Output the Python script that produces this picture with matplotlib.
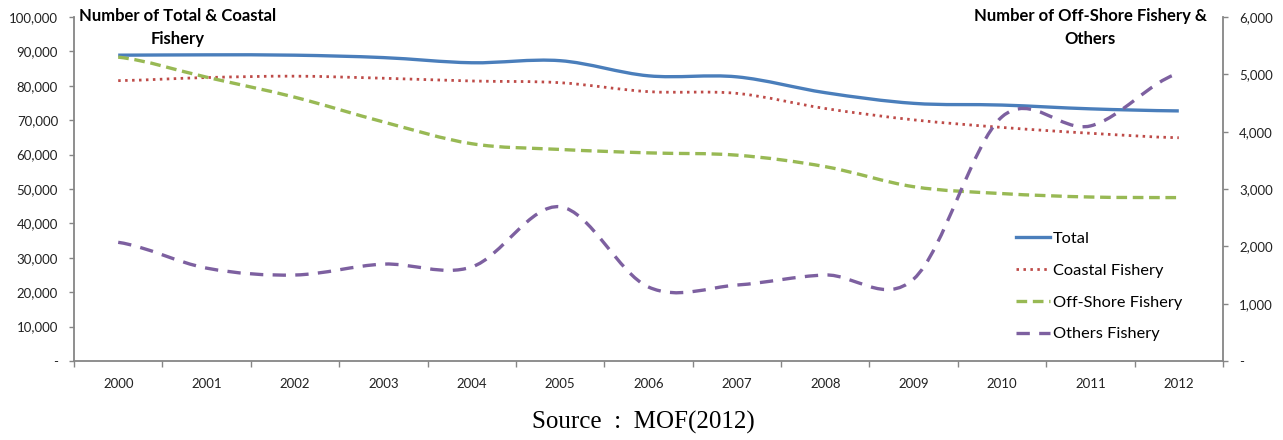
import matplotlib
matplotlib.use("Agg")
import matplotlib.pyplot as plt
from matplotlib.path import Path
from matplotlib.patches import PathPatch
from matplotlib.lines import Line2D
from matplotlib.ticker import FuncFormatter, FixedLocator

years = ["2000", "2001", "2002", "2003", "2004", "2005", "2006",
         "2007", "2008", "2009", "2010", "2011", "2012"]
total = [88900, 89000, 88900, 88200, 86700, 87300, 82900,
         82600, 78000, 74900, 74400, 73300, 72700]
coastal = [81500, 82400, 82800, 82200, 81400, 80900, 78300,
           77800, 73400, 70100, 67900, 66200, 64900]
offshore = [5300, 4950, 4600, 4170, 3790, 3690, 3630,
            3590, 3390, 3040, 2920, 2860, 2850]
others = [2070, 1620, 1500, 1690, 1640, 2690, 1290,
          1325, 1500, 1430, 4260, 4100, 5020]

C_TOTAL = "#4A7EBB"
C_COAST = "#BE4B48"
C_OFF = "#98B954"
C_OTH = "#7D60A0"

W, H = 1283, 440
fig = plt.figure(figsize=(W / 100, H / 100), dpi=100)
ax = fig.add_axes([74 / W, (H - 361) / H, (1223 - 74) / W, 344 / H])
ax2 = ax.twinx()

def smooth_path(ys):
    """Excel-style smoothed line as cubic Bezier segments (Catmull-Rom)."""
    n = len(ys)
    xs = list(range(n))
    verts = [(xs[0], ys[0])]
    codes = [Path.MOVETO]
    for i in range(n - 1):
        p0 = ys[i - 1] if i > 0 else ys[i]
        p1, p2 = ys[i], ys[i + 1]
        p3 = ys[i + 2] if i + 2 < n else ys[i + 1]
        c1 = p1 + (p2 - p0) / 6.0
        c2 = p2 - (p3 - p1) / 6.0
        verts += [(xs[i] + 1 / 3, c1), (xs[i] + 2 / 3, c2), (xs[i + 1], p2)]
        codes += [Path.CURVE4] * 3
    return Path(verts, codes)

styles = {
    "total": dict(color=C_TOTAL, lw=2.4, ls="-"),
    "coastal": dict(color=C_COAST, lw=2.0, ls=(0, (0.9, 1.6))),
    "offshore": dict(color=C_OFF, lw=2.4, ls=(0, (3.2, 1.7))),
    "others": dict(color=C_OTH, lw=2.4, ls=(0, (4.0, 2.8))),
}

for a, ys, key in [(ax, total, "total"), (ax, coastal, "coastal"),
                   (ax2, offshore, "offshore"), (ax2, others, "others")]:
    st = styles[key]
    patch = PathPatch(smooth_path(ys), fill=False, edgecolor=st["color"],
                      lw=st["lw"], ls=st["ls"], capstyle="butt",
                      joinstyle="round")
    a.add_patch(patch)

ax.set_xlim(-0.5, len(years) - 0.5)
ax.set_ylim(0, 100000)
ax2.set_ylim(0, 6000)

def fmt(v, pos):
    return "-" if v == 0 else f"{int(v):,}"

ax.set_yticks(range(0, 100001, 10000))
ax.yaxis.set_major_formatter(FuncFormatter(fmt))
ax2.set_yticks(range(0, 6001, 1000))
ax2.yaxis.set_major_formatter(FuncFormatter(fmt))

ax.set_xticks(range(len(years)))
ax.set_xticklabels(years)
ax.xaxis.set_minor_locator(FixedLocator([i - 0.5 for i in range(len(years) + 1)]))
ax.tick_params(axis="x", which="major", length=0, pad=12, labelsize=9.5, colors="#222222")
ax.tick_params(axis="x", which="minor", length=4.5, width=1, color="#868686", direction="out")
ax.tick_params(axis="y", length=3.5, width=1, color="#868686", pad=8,
               labelsize=9.5, labelcolor="#222222")
ax2.tick_params(axis="y", length=3.5, width=1, color="#868686", pad=8,
                labelsize=9.5, labelcolor="#222222")
for lab in ax.get_xticklabels() + ax.get_yticklabels() + ax2.get_yticklabels():
    lab.set_family(["Lato", "DejaVu Sans"])

for a in (ax, ax2):
    for s in a.spines.values():
        s.set_color("#868686")
        s.set_linewidth(1.3)
    a.spines["top"].set_visible(False)
ax2.spines["left"].set_visible(False)
ax2.spines["bottom"].set_visible(False)
ax.spines["right"].set_visible(False)

handles = [Line2D([], [], color=styles[k]["color"], lw=styles[k]["lw"],
                  ls=styles[k]["ls"], dash_capstyle="butt")
           for k in ["total", "coastal", "offshore", "others"]]
labels = ["Total", "Coastal Fishery", "Off-Shore Fishery", "Others Fishery"]
leg = ax2.legend(handles, labels, loc="upper left",
                 bbox_to_anchor=(1001 / W, (H - 217) / H),
                 bbox_transform=fig.transFigure, frameon=False,
                 prop=dict(family=["Lato", "DejaVu Sans"], size=11.8),
                 handlelength=2.1, handletextpad=0.15, labelspacing=1.05)

title_font = dict(family=["Lato", "DejaVu Sans"], weight="bold", size=12,
                  color="black")
fig.text(178 / W, 1 - 8 / H, "Number of Total & Coastal\nFishery",
         ha="center", va="top", linespacing=1.55, **title_font)
fig.text(1090 / W, 1 - 8 / H, "Number of Off-Shore Fishery &\nOthers",
         ha="center", va="top", linespacing=1.55, **title_font)

fig.text(643 / W, 1 - 422 / H, "Source  :  MOF(2012)", ha="center",
         va="center", family=["Liberation Serif", "DejaVu Serif"], size=18,
         color="black")

fig.savefig("out.png", dpi=100)
